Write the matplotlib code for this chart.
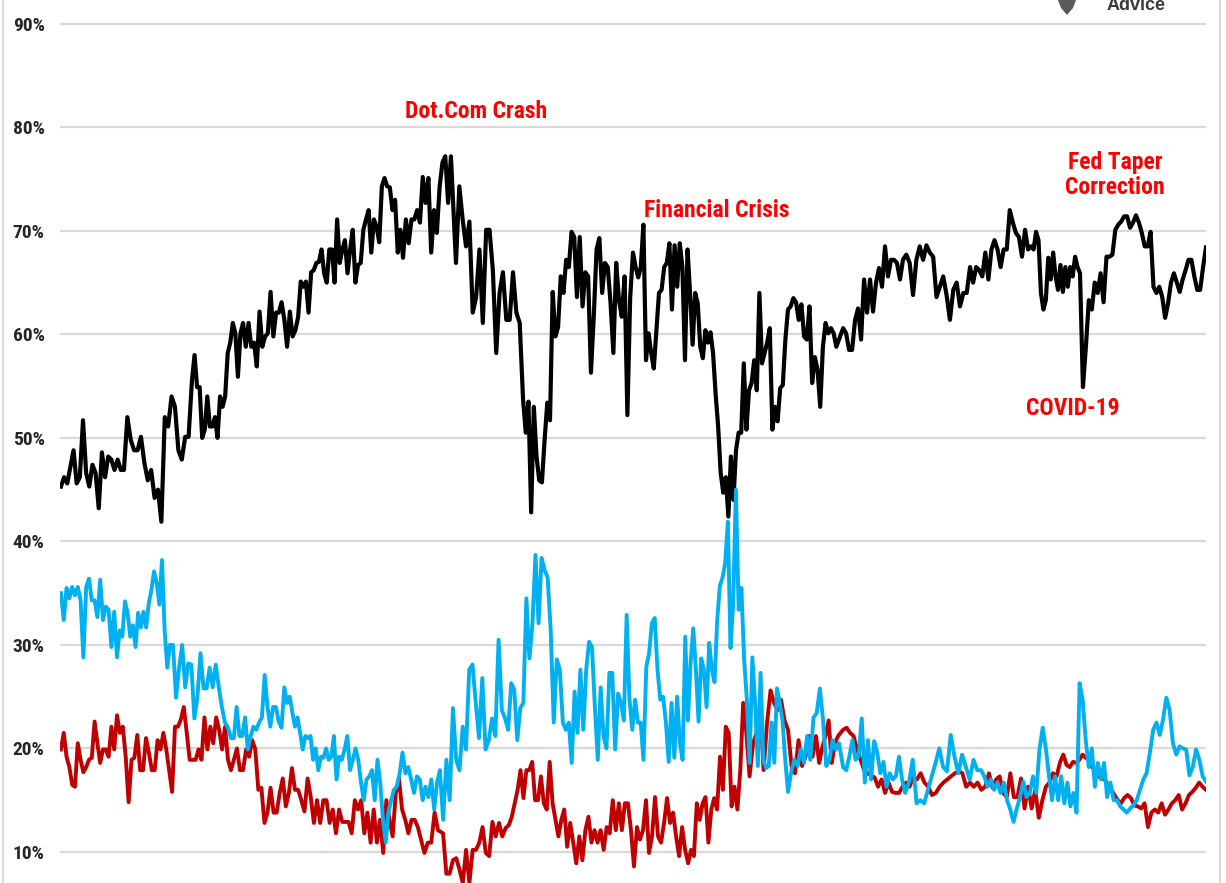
import numpy as np
import matplotlib
matplotlib.use("Agg")
import matplotlib.pyplot as plt
from matplotlib import font_manager
from matplotlib.lines import Line2D
from matplotlib.patches import Polygon


# AAII asset allocation (% of portfolio).
# Each series is kept in three pieces; every piece has the dates (decimal years)
# of its 1st, 21st, 41st ... and last reading.

STOCKS_1 = [45.3, 46.2, 45.6, 47.2, 48.8, 45.6, 46.2, 51.7, 46.6, 45.3,
            47.4, 46.6, 43.2, 48.6, 46.2, 48.2, 47.9, 46.9, 47.9, 46.9,
            46.9, 52.0, 49.8, 48.8, 48.8, 50.1, 47.6, 45.9, 46.9, 44.2,
            45.0, 41.9, 52.0, 51.1, 54.0, 53.0, 48.8, 47.9, 50.1, 50.1,
            55.6, 58.0, 54.9, 54.9, 50.0, 50.8, 54.0, 51.1, 51.1, 52.0,
            50.0, 54.0, 53.0, 54.0, 58.2, 59.2, 61.1, 60.1, 55.9, 60.1,
            61.1, 58.8, 61.1, 58.8, 59.2, 56.9, 62.2, 58.8, 59.8, 60.1,
            64.1, 59.8, 62.1, 62.1, 63.1, 61.4, 58.8, 62.2, 59.8, 60.4,
            61.7, 65.1, 64.6, 65.1, 62.1, 66.0, 66.2, 66.9, 67.0, 68.2,
            65.9, 65.0, 68.2, 68.2, 65.0, 71.1, 66.9, 68.2, 69.1, 65.9,
            68.2, 70.1, 65.0, 66.7, 66.9, 70.1, 71.1, 72.0, 67.9, 71.1,
            70.4, 68.9, 74.3, 75.1, 74.3, 74.2, 72.0, 73.0, 67.9, 70.1,
            67.4, 71.1, 68.8, 71.1, 71.1, 72.0, 70.8, 75.2, 72.7, 75.1,
            67.9, 72.0, 69.8, 74.3, 76.6, 77.2, 72.7, 77.2]
STOCKS_1_DATES = [1987.86, 1989.86, 1992.02, 1993.64, 1995.39, 1997.04, 1998.72, 2000.24]

STOCKS_2 = [66.9, 74.3, 71.1, 68.5, 70.9, 62.1, 63.6, 68.2, 61.1, 70.1,
            70.1, 66.2, 58.2, 64.0, 66.0, 61.4, 61.4, 66.0, 62.1, 61.1,
            53.7, 50.5, 53.5, 42.8, 53.0, 48.2, 45.9, 45.7, 49.8, 53.4,
            51.7, 64.1, 59.8, 60.7, 65.6, 64.0, 67.2, 66.5, 69.9, 69.4,
            63.6, 69.4, 62.7, 66.0, 65.6, 56.3, 61.7, 68.2, 69.3, 64.0,
            66.9, 66.5, 63.0, 58.2, 66.9, 63.3, 61.7, 65.6, 52.2, 63.6,
            67.9, 66.5, 65.5, 66.5, 70.6, 57.5, 60.1, 58.2, 56.7, 60.4,
            64.0, 64.3, 66.5, 66.9, 68.8, 62.4, 68.6, 64.6, 68.8, 66.5,
            57.5, 68.2, 64.0, 59.0, 64.0, 63.0, 58.8, 57.7, 60.4, 59.2,
            60.2, 58.2, 54.3, 51.1, 46.6, 44.7, 46.2, 42.4, 48.2, 44.0,
            48.8, 50.5, 50.5, 57.2, 50.8, 54.6, 55.3, 57.5, 54.6, 64.0,
            57.2, 58.2, 59.2, 60.6, 50.8, 53.0, 51.6, 54.8, 55.1, 59.5,
            62.4, 62.7, 63.5, 63.1, 61.4, 62.9, 59.8, 59.5, 62.7, 55.3,
            57.8, 56.6, 53.0, 58.8, 61.1, 60.1, 60.6, 60.1, 58.8, 59.5]
STOCKS_2_DATES = [2000.40, 2002.53, 2004.24, 2006.02, 2007.67, 2009.29, 2010.94, 2012.56]

STOCKS_3 = [60.6, 60.1, 58.5, 58.5, 61.4, 62.5, 59.5, 65.3, 62.1, 65.3,
            62.2, 65.0, 66.4, 64.6, 68.5, 65.6, 67.2, 67.2, 66.9, 65.3,
            67.2, 67.7, 66.9, 63.8, 67.2, 68.5, 67.2, 68.6, 67.9, 67.5,
            63.6, 64.6, 65.6, 63.8, 61.4, 64.3, 65.0, 62.7, 64.0, 64.0,
            66.5, 65.0, 66.5, 66.2, 65.6, 67.9, 65.3, 68.2, 69.1, 68.2,
            66.5, 68.2, 68.2, 72.0, 70.8, 69.8, 69.4, 67.5, 70.1, 68.2,
            68.5, 68.2, 69.9, 69.1, 64.0, 62.4, 63.3, 67.4, 65.3, 67.9,
            65.6, 64.3, 66.7, 64.1, 66.5, 64.6, 66.5, 65.6, 67.5, 66.5,
            65.9, 54.9, 58.8, 63.3, 62.4, 65.0, 64.0, 65.9, 63.1, 67.5,
            67.5, 67.7, 70.1, 70.6, 70.9, 71.4, 71.4, 70.3, 70.8, 71.5,
            70.8, 69.8, 68.5, 68.5, 69.9, 64.6, 64.0, 64.6, 63.6, 61.6,
            63.0, 65.0, 65.9, 65.0, 64.1, 65.3, 66.2, 67.2, 67.2, 65.6,
            64.3, 64.3, 66.5, 68.4]
STOCKS_3_DATES = [2012.69, 2014.59, 2016.72, 2018.66, 2020.21, 2022.08, 2024.21]

BONDS_1 = [19.9, 21.5, 19.2, 18.2, 16.5, 16.3, 20.5, 18.9, 17.7, 18.2,
           18.9, 19.1, 22.6, 20.5, 18.6, 19.9, 19.9, 19.2, 22.1, 19.9,
           23.2, 21.5, 22.1, 19.2, 14.8, 18.9, 19.1, 21.3, 17.9, 17.9,
           21.0, 19.6, 17.9, 17.9, 20.8, 19.9, 21.5, 19.9, 17.9, 15.8,
           22.1, 22.1, 22.8, 24.0, 21.5, 18.9, 18.9, 18.9, 19.9, 18.9,
           23.0, 19.9, 22.1, 20.5, 23.0, 21.8, 19.9, 22.1, 18.9, 17.9,
           18.9, 20.0, 17.9, 17.9, 19.9, 19.2, 20.8, 19.9, 16.0, 16.2,
           12.8, 13.8, 16.2, 13.8, 13.8, 15.7, 17.1, 14.4, 15.7, 18.1,
           16.0, 16.0, 15.0, 13.9, 17.1, 15.3, 12.8, 15.0, 12.8, 15.0,
           15.0, 12.8, 14.1, 11.8, 14.1, 12.9, 12.9, 12.9, 11.8, 15.0,
           14.1, 15.0, 11.8, 13.8, 10.9, 14.1, 10.9, 13.1, 9.9, 15.0,
           13.1, 11.5, 15.7, 17.1, 14.1, 13.1, 11.8, 13.1, 13.1, 12.4,
           11.2, 9.9, 10.9, 10.9, 13.8, 12.1]
BONDS_1_DATES = [1987.86, 1989.64, 1991.48, 1993.35, 1995.29, 1997.29, 1999.29, 1999.83]

BONDS_2 = [11.8, 7.9, 7.9, 9.2, 9.4, 8.3, 7.0, 10.2, 7.0, 10.2,
           10.2, 10.9, 12.4, 9.9, 9.6, 12.9, 11.5, 12.8, 11.5, 12.3,
           12.6, 13.4, 14.7, 16.0, 17.9, 15.2, 17.9, 17.9, 18.7, 15.0,
           15.0, 17.3, 14.7, 14.1, 18.7, 14.7, 13.1, 11.5, 13.1, 14.1,
           10.5, 12.8, 10.9, 8.9, 11.5, 9.2, 12.1, 13.4, 10.9, 12.1,
           10.9, 12.1, 10.2, 12.4, 11.8, 15.0, 12.1, 14.7, 12.1, 14.7,
           14.7, 12.1, 8.6, 12.4, 11.2, 12.1, 15.0, 9.9, 11.5, 15.3,
           11.5, 10.9, 12.8, 15.2, 12.8, 13.8, 11.5, 9.6, 12.4, 10.2,
           8.9, 10.2, 9.6, 14.7, 13.1, 14.7, 15.3, 10.9, 14.1, 15.2,
           14.1, 19.2, 16.0, 22.1, 21.5, 14.4, 16.3, 14.1, 17.9, 24.4,
           21.8, 17.3, 20.5, 21.5, 24.4, 17.9, 22.5, 25.6, 24.4, 23.7,
           24.7, 22.7, 21.8, 18.3, 17.6, 20.8, 18.3, 19.2, 21.2, 19.2,
           21.2, 18.6, 20.1, 21.2, 22.7, 18.6, 20.5, 21.2]
BONDS_2_DATES = [1999.99, 2002.08, 2003.93, 2005.86, 2007.77, 2009.61, 2011.83, 2012.53]

BONDS_3 = [21.8, 22.0, 21.5, 21.2, 19.9, 18.9, 17.9, 17.6, 17.4, 17.2,
           16.3, 17.0, 15.7, 16.7, 15.8, 15.7, 15.7, 16.3, 16.7, 16.3,
           17.2, 17.0, 17.6, 16.7, 16.3, 15.5, 15.7, 16.3, 16.7, 17.0,
           17.3, 17.6, 17.8, 17.6, 16.3, 16.7, 16.3, 16.7, 16.0, 16.3,
           17.6, 16.2, 17.0, 17.3, 15.7, 15.3, 17.6, 15.3, 15.3, 17.1,
           14.2, 16.3, 14.2, 16.0, 13.3, 15.0, 16.3, 16.7, 17.6, 17.3,
           18.7, 19.4, 18.4, 18.2, 18.7, 18.6, 18.9, 19.4, 19.1, 18.9,
           18.2, 17.8, 17.3, 17.1, 17.0, 16.3, 16.0, 15.5, 15.0, 14.7,
           15.2, 15.5, 15.2, 14.5, 14.4, 14.2, 14.7, 12.4, 13.8, 14.1,
           13.8, 14.7, 13.6, 14.1, 14.7, 15.0, 15.5, 14.1, 14.7, 15.5,
           15.8, 16.2, 16.7, 16.3, 16.0]
BONDS_3_DATES = [2012.69, 2014.91, 2017.32, 2019.58, 2021.61, 2024.21]

CASH_1 = [35.0, 32.4, 35.5, 34.5, 35.6, 34.8, 35.6, 34.3, 28.8, 35.6,
          36.4, 34.3, 34.3, 32.7, 36.3, 32.4, 33.7, 33.4, 29.8, 33.2,
          28.8, 31.4, 30.8, 34.2, 33.1, 30.8, 31.9, 29.8, 33.1, 31.7,
          33.2, 31.7, 34.0, 35.3, 37.1, 36.0, 33.9, 38.2, 31.4, 27.8,
          30.0, 30.0, 24.9, 27.8, 30.0, 25.9, 28.2, 28.1, 22.9, 25.0,
          29.2, 25.8, 25.8, 27.8, 25.9, 28.1, 25.9, 24.0, 22.5, 22.0,
          21.0, 21.0, 24.0, 21.2, 21.2, 23.0, 19.9, 21.2, 22.1, 21.8,
          22.5, 23.0, 27.1, 24.0, 22.1, 24.0, 24.0, 22.6, 22.0, 25.9,
          24.4, 25.0, 23.5, 22.1, 23.0, 21.5, 19.9, 21.2, 21.0, 21.2,
          18.9, 20.0, 17.9, 19.2, 19.1, 20.0, 18.9, 19.2, 21.2, 17.0,
          19.2, 18.9, 19.9, 21.2, 17.9, 18.9, 20.0, 18.9, 16.7, 15.0,
          17.0, 17.3, 17.9, 15.0, 18.9, 16.7, 13.1, 10.9, 13.8, 15.0,
          16.0, 16.3, 17.6, 19.6, 17.6, 18.2, 17.0, 15.7, 17.3, 17.0,
          15.0, 16.3, 15.3, 17.0, 14.1, 16.7]
CASH_1_DATES = [1987.86, 1989.64, 1991.32, 1993.26, 1995.04, 1996.69, 1998.43, 1999.80]

CASH_2 = [17.9, 13.1, 18.9, 15.0, 23.9, 18.9, 17.9, 22.1, 19.9, 27.6,
          28.1, 24.4, 21.0, 26.8, 19.9, 20.8, 22.9, 21.2, 30.5, 23.7,
          22.9, 21.8, 26.3, 25.7, 20.8, 23.9, 24.4, 34.5, 28.7, 32.1,
          38.7, 32.1, 38.4, 37.2, 36.5, 31.4, 22.5, 28.6, 27.6, 22.5,
          21.8, 22.5, 18.6, 25.5, 21.5, 27.6, 21.8, 27.6, 30.3, 29.8,
          24.0, 18.9, 25.9, 21.2, 20.0, 27.3, 27.3, 19.9, 25.3, 24.4,
          22.7, 32.9, 24.7, 21.8, 24.7, 22.5, 22.5, 18.9, 27.9, 29.2,
          32.1, 32.6, 27.6, 24.7, 25.0, 22.5, 18.7, 24.4, 19.1, 25.0,
          20.5, 18.9, 30.8, 22.7, 28.3, 31.6, 27.6, 22.6, 28.7, 27.6,
          24.0, 30.2, 27.6, 26.4, 32.4, 35.7, 36.5, 37.9, 41.9, 29.7,
          34.0, 45.0, 33.4, 35.5, 28.6, 24.7, 18.6, 28.8, 24.4, 18.3,
          27.3, 18.9, 18.1, 18.3, 22.5, 18.6, 25.8, 24.4, 22.7, 18.9,
          15.8, 17.7, 18.9, 18.3, 19.9, 18.6, 21.2, 18.9, 23.0, 23.4,
          25.8, 22.7, 18.3, 18.9, 20.8, 19.9, 20.5]
CASH_2_DATES = [1999.89, 2001.96, 2003.89, 2005.73, 2007.51, 2009.20, 2010.94, 2012.56]

CASH_3 = [18.2, 17.9, 19.2, 20.8, 18.9, 19.2, 22.9, 16.7, 20.8, 17.0,
          20.7, 19.6, 17.6, 18.7, 16.3, 17.6, 17.0, 17.3, 19.2, 17.0,
          15.7, 16.7, 18.9, 14.7, 15.0, 14.7, 16.0, 17.3, 18.6, 20.0,
          18.2, 17.8, 21.3, 19.2, 17.6, 19.4, 18.2, 17.0, 18.9, 17.9,
          17.9, 17.3, 16.3, 17.0, 16.0, 16.7, 15.7, 16.7, 15.0, 14.1,
          12.9, 14.2, 15.3, 16.8, 15.3, 15.7, 17.3, 15.7, 19.9, 22.0,
          19.9, 17.3, 15.0, 17.3, 15.0, 17.3, 14.7, 16.7, 14.4, 15.7,
          13.8, 26.3, 24.7, 20.8, 18.2, 20.0, 16.3, 18.6, 17.0, 18.6,
          15.3, 16.7, 15.0, 15.0, 14.4, 14.1, 13.8, 14.2, 14.5, 15.0,
          16.0, 17.0, 17.6, 19.6, 21.8, 22.5, 21.3, 22.8, 24.9, 23.7,
          20.5, 19.4, 20.2, 20.0, 19.9, 17.4, 18.2, 19.9, 18.9, 17.3,
          16.8]
CASH_3_DATES = [2012.69, 2014.66, 2017.07, 2019.13, 2021.07, 2023.16, 2024.21]

Y_TICKS = [10, 20, 30, 40, 50, 60, 70, 80, 90]

EVENTS = ["Dot.Com Crash", "Financial Crisis", "Fed Taper\nCorrection", "COVID-19"]
EVENT_DATES = [2001.04, 2008.69, 2021.32, 2019.99]
EVENT_LEVELS = [81.5, 72.0, 75.4, 52.8]


def pick_font(names):
    for name in names:
        try:
            font_manager.findfont(font_manager.FontProperties(family=name),
                                  fallback_to_default=False)
            return name
        except ValueError:
            pass
    return None


def piece_dates(values, anchors):
    # anchors are dates of readings 0, 20, 40, ... and of the last one
    idx = list(range(0, 20 * (len(anchors) - 1), 20)) + [len(values) - 1]
    return np.interp(np.arange(len(values)), idx, anchors)


def join(pieces):
    xs = np.concatenate([piece_dates(v, d) for v, d in pieces])
    ys = np.concatenate([np.array(v, dtype=float) for v, d in pieces])
    return xs, ys


WIDE = pick_font(["Liberation Sans", "Arial"]) or "DejaVu Sans"
NARROW = pick_font(["Liberation Sans Narrow", "Arial Narrow", "Roboto Condensed"])
if NARROW is None:
    # no condensed face: shrink the wide one so widths match
    NARROW, TICK_SIZE, NOTE_SIZE = WIDE, 12, 14
else:
    TICK_SIZE, NOTE_SIZE = 14, 17

W, H = 1226, 883
fig = plt.figure(figsize=(W / 100, H / 100), dpi=100)
fig.patch.set_facecolor("white")
ax = fig.add_axes([60 / W, 0, 1146 / W, 1])

stock_x, stock_y = join([(STOCKS_1, STOCKS_1_DATES), (STOCKS_2, STOCKS_2_DATES),
                         (STOCKS_3, STOCKS_3_DATES)])
bond_x, bond_y = join([(BONDS_1, BONDS_1_DATES), (BONDS_2, BONDS_2_DATES),
                       (BONDS_3, BONDS_3_DATES)])
cash_x, cash_y = join([(CASH_1, CASH_1_DATES), (CASH_2, CASH_2_DATES),
                       (CASH_3, CASH_3_DATES)])

ax.plot(stock_x, stock_y, color="#000000", lw=3.0, solid_joinstyle="round", zorder=3)
ax.plot(bond_x, bond_y, color="#c00000", lw=2.8, solid_joinstyle="round", zorder=4)
ax.plot(cash_x, cash_y, color="#00b0f0", lw=2.8, solid_joinstyle="round", zorder=5)

ax.set_xlim(1987.83, 2024.21)
ax.set_ylim(7.0, 92.3)
ax.set_yticks(Y_TICKS)
ax.set_yticklabels([f"{t}%" for t in Y_TICKS], fontfamily=NARROW,
                   fontweight="bold", fontsize=TICK_SIZE, color="#262626")
ax.tick_params(axis="y", length=0, pad=11)
ax.set_xticks([])
ax.grid(axis="y", color="#d9d9d9", lw=1.6, zorder=0)
for s in ax.spines.values():
    s.set_visible(False)
ax.set_facecolor("none")

for label, d, lvl in zip(EVENTS, EVENT_DATES, EVENT_LEVELS):
    ax.text(d, lvl, label, color="#ff0000", fontfamily=NARROW, fontweight="bold",
            fontsize=NOTE_SIZE, ha="center", va="center", linespacing=1.1, zorder=6)

# frame lines at the picture edges
fig.add_artist(Line2D([3 / W, 3 / W], [0, 1], color="#d9d9d9", lw=1.5))
fig.add_artist(Line2D([1220 / W, 1220 / W], [0, 1], color="#d9d9d9", lw=1.5))

# logo, cut off at the top as in the source picture
fig.text(1107 / W, 1 - 10 / H, "Advice", fontfamily=WIDE, fontweight="bold",
         fontsize=13, color="#3a3a3a", ha="left", va="baseline")
shield = [(1058, 0), (1076, 0), (1073, 8), (1067, 15), (1061, 8)]
fig.add_artist(Polygon([(px / W, 1 - py / H) for px, py in shield], closed=True,
                       transform=fig.transFigure, facecolor="#5a5a5a", edgecolor="none"))

fig.savefig("out.png", dpi=100, facecolor="white")
